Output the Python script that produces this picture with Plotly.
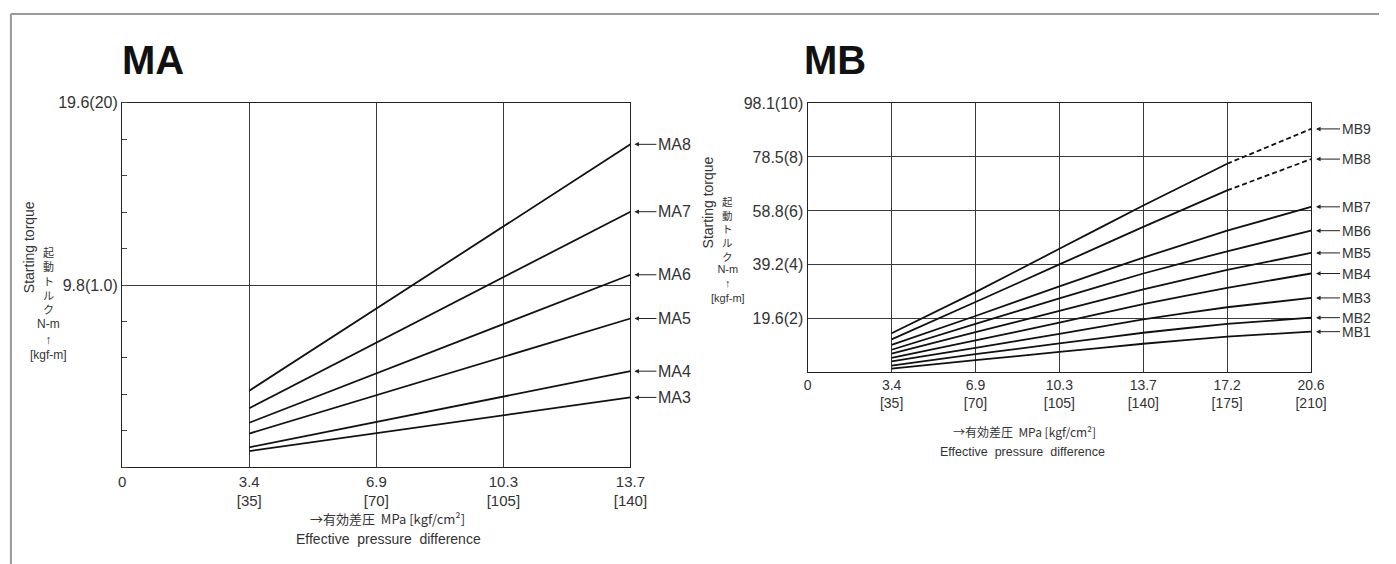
import plotly.graph_objects as go

W, H = 1396, 564

# ---------------- MA data ----------------
ma_labels = ["MA3", "MA4", "MA5", "MA6", "MA7", "MA8"]
ma_x = [35, 140]
ma_at_35 = [0.88, 1.08, 1.82, 2.40, 3.18, 4.12]
ma_at_140 = [3.76, 5.17, 8.00, 10.35, 13.74, 17.36]
ma_xticks = [0, 35, 70, 105, 140]
ma_xticktext = ["0", "3.4<br>[35]", "6.9<br>[70]", "10.3<br>[105]", "13.7<br>[140]"]
ma_yticks = [0, 9.8, 19.6]
ma_yticktext = ["", "9.8(1.0)", "19.6(20)"]

# ---------------- MB data ----------------
mb_labels = ["MB1", "MB2", "MB3", "MB4", "MB5", "MB6", "MB7", "MB8", "MB9"]
mb_x = [35, 70, 105, 140, 175, 210]
mb1 = [1.3, 4.4, 7.4, 10.4, 13.0, 14.8]
mb2 = [2.4, 6.6, 10.5, 14.4, 17.6, 19.9]
mb3 = [4.0, 8.9, 14.0, 19.3, 23.7, 27.1]
mb4 = [5.2, 11.6, 18.1, 24.8, 30.8, 36.0]
mb5 = [6.8, 14.6, 22.4, 30.2, 37.3, 43.5]
mb6 = [8.2, 17.6, 26.9, 36.0, 44.1, 51.6]
mb7 = [10.0, 20.5, 31.3, 41.8, 51.6, 60.3]
mb8 = [12.0, 25.6, 39.3, 53.0, 66.3, 77.7]
mb9 = [14.2, 29.2, 45.0, 60.8, 76.0, 88.7]
mb_dashed_from = {"MB8": 175, "MB9": 175}
mb_xticks = [0, 35, 70, 105, 140, 175, 210]
mb_xticktext = ["0", "3.4<br>[35]", "6.9<br>[70]", "10.3<br>[105]", "13.7<br>[140]",
                "17.2<br>[175]", "20.6<br>[210]"]
mb_yticks = [0, 19.6, 39.2, 58.8, 78.5, 98.1]
mb_yticktext = ["", "19.6(2)", "39.2(4)", "58.8(6)", "78.5(8)", "98.1(10)"]

mb_series = [mb1, mb2, mb3, mb4, mb5, mb6, mb7, mb8, mb9]

FONT = "Liberation Sans, Arial, sans-serif"
JP = "Noto Sans CJK JP, sans-serif"
TXT = "#333333"
LINE = "#111111"
GRID = "#3a3a3a"


def px_x(p):
    return p / W


def px_y(p):
    return 1 - p / H


fig = go.Figure()

for name, a, b in zip(ma_labels, ma_at_35, ma_at_140):
    fig.add_trace(go.Scatter(x=ma_x, y=[a, b], mode="lines", xaxis="x", yaxis="y",
                             line=dict(color=LINE, width=1.8), showlegend=False, hoverinfo="skip"))

for name, ys in zip(mb_labels, mb_series):
    if name in mb_dashed_from:
        cut = mb_x.index(mb_dashed_from[name])
        fig.add_trace(go.Scatter(x=mb_x[:cut + 1], y=ys[:cut + 1], mode="lines", xaxis="x2", yaxis="y2",
                                 line=dict(color=LINE, width=1.8, shape="spline", smoothing=0.4),
                                 showlegend=False, hoverinfo="skip"))
        fig.add_trace(go.Scatter(x=mb_x[cut:], y=ys[cut:], mode="lines", xaxis="x2", yaxis="y2",
                                 line=dict(color=LINE, width=1.8, dash="5px,3px"),
                                 showlegend=False, hoverinfo="skip"))
    else:
        fig.add_trace(go.Scatter(x=mb_x, y=ys, mode="lines", xaxis="x2", yaxis="y2",
                                 line=dict(color=LINE, width=1.8, shape="spline", smoothing=0.4),
                                 showlegend=False, hoverinfo="skip"))

axis_common = dict(showline=True, linecolor="#222", linewidth=1.4, mirror=True, zeroline=False,
                   fixedrange=True, tickmode="array", gridcolor=GRID, gridwidth=1)

fig.update_layout(
    width=W, height=H, margin=dict(l=0, r=0, t=0, b=0),
    paper_bgcolor="white", plot_bgcolor="white",
    xaxis=dict(domain=[px_x(120), px_x(636)], range=[0, 140], tickvals=ma_xticks, ticktext=ma_xticktext,
               showgrid=True, ticks="", tickfont=dict(family=FONT, size=15, color=TXT), anchor="y",
               **axis_common),
    yaxis=dict(domain=[px_y(466), px_y(96)], range=[0, 19.6], tickvals=ma_yticks, ticktext=ma_yticktext,
               showgrid=True, ticks="", tickfont=dict(family=FONT, size=16, color=TXT), anchor="x",
               minor=dict(dtick=1.96, tick0=0, ticks="inside", ticklen=5, tickcolor="#444", showgrid=False),
               **axis_common),
    xaxis2=dict(domain=[px_x(816), px_x(1327)], range=[0, 210], tickvals=mb_xticks, ticktext=mb_xticktext,
                showgrid=True, ticks="", tickfont=dict(family=FONT, size=14, color=TXT), anchor="y2",
                **axis_common),
    yaxis2=dict(domain=[px_y(369.5), px_y(96.5)], range=[0, 98.1], tickvals=mb_yticks, ticktext=mb_yticktext,
                showgrid=True, ticks="", tickfont=dict(family=FONT, size=16, color=TXT), anchor="x2",
                **axis_common),
)

ann = []
ann.append(dict(text="<b>MA</b>", x=px_x(118), y=px_y(53), xref="paper", yref="paper", xanchor="left",
                yanchor="middle", showarrow=False, font=dict(family=FONT, size=40, color="#111")))
ann.append(dict(text="<b>MB</b>", x=px_x(810), y=px_y(53), xref="paper", yref="paper", xanchor="left",
                yanchor="middle", showarrow=False, font=dict(family=FONT, size=40, color="#111")))

for name, b in zip(ma_labels, ma_at_140):
    ann.append(dict(text=name, x=140, y=b, xref="x", yref="y", ax=26, ay=0, xanchor="left", yanchor="middle",
                    showarrow=True, arrowhead=2, arrowsize=0.9, arrowwidth=1, arrowcolor="#222", standoff=4,
                    font=dict(family=FONT, size=16, color=TXT)))
for name, ys in zip(mb_labels, mb_series):
    ann.append(dict(text=name, x=210, y=ys[-1], xref="x2", yref="y2", ax=29, ay=0, xanchor="left",
                    yanchor="middle", showarrow=True, arrowhead=2, arrowsize=0.9, arrowwidth=1,
                    arrowcolor="#222", standoff=5, font=dict(family=FONT, size=14, color=TXT)))


def ytitle(xc, yc_rot, yc_jp, y_unit, sz_rot, sz_jp, sz_unit):
    out = []
    out.append(dict(text="Starting torque", x=px_x(xc), y=px_y(yc_rot), xref="paper", yref="paper",
                    textangle=-90, showarrow=False, xanchor="center", yanchor="middle",
                    font=dict(family=FONT, size=sz_rot, color=TXT)))
    out.append(dict(text="起<br>動<br>ト<br>ル<br>ク", x=px_x(xc + 20), y=px_y(yc_jp), xref="paper", yref="paper",
                    showarrow=False, xanchor="center", yanchor="middle",
                    font=dict(family=JP, size=sz_jp, color=TXT)))
    out.append(dict(text="N-m<br>↑<br>[kgf-m]", x=px_x(xc + 20), y=px_y(y_unit), xref="paper", yref="paper",
                    showarrow=False, xanchor="center", yanchor="middle",
                    font=dict(family=FONT, size=sz_unit, color=TXT)))
    return out


ann += ytitle(25, 243, 276, 336, 14, 11, 12)
ann += ytitle(715, 197, 224, 279, 14, 10.5, 11)

ann.append(dict(text="→有効差圧  MPa [kgf/cm²]", x=px_x(389), y=px_y(518), xref="paper", yref="paper",
                showarrow=False, xanchor="center", yanchor="middle", font=dict(family=JP, size=13, color=TXT)))
ann.append(dict(text="Effective  pressure  difference", x=px_x(390), y=px_y(539), xref="paper", yref="paper",
                showarrow=False, xanchor="center", yanchor="middle", font=dict(family=FONT, size=14, color=TXT)))
ann.append(dict(text="→有効差圧  MPa [kgf/cm²]", x=px_x(1036), y=px_y(430), xref="paper", yref="paper",
                showarrow=False, xanchor="center", yanchor="middle", font=dict(family=JP, size=12, color=TXT)))
ann.append(dict(text="Effective  pressure  difference", x=px_x(1034), y=px_y(450), xref="paper", yref="paper",
                showarrow=False, xanchor="center", yanchor="middle", font=dict(family=FONT, size=12.5, color=TXT)))

fig.update_layout(annotations=ann)

# page frame (top and left edges)
fig.add_shape(type="line", xref="paper", yref="paper", x0=px_x(7), x1=1, y0=px_y(6), y1=px_y(6),
              line=dict(color="#999", width=2))
fig.add_shape(type="line", xref="paper", yref="paper", x0=px_x(7), x1=px_x(7), y0=0, y1=px_y(6),
              line=dict(color="#999", width=2))

fig.write_html("out.html", config={"displayModeBar": False},
               post_script="document.body.style.margin='0';document.body.style.overflow='hidden';")
